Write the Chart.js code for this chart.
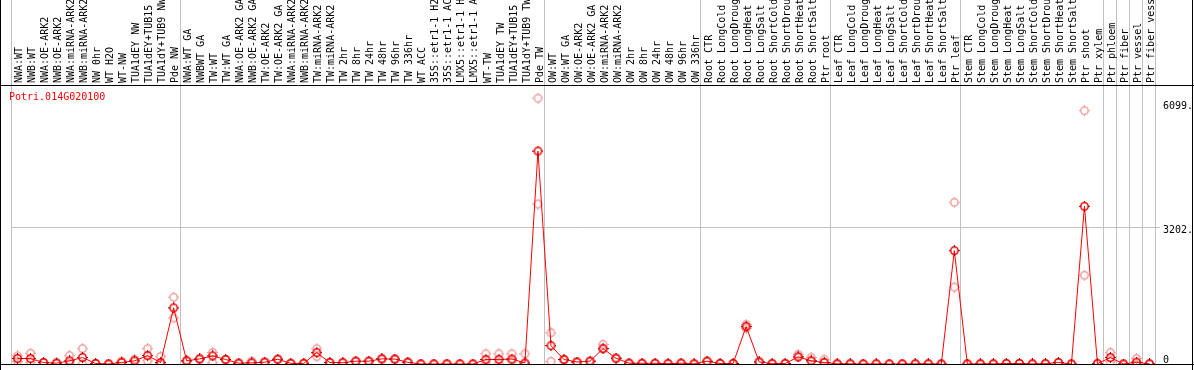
<!DOCTYPE html>
<html>
<head>
<meta charset="utf-8">
<script src="https://cdn.jsdelivr.net/npm/chart.js@4/dist/chart.umd.min.js"></script>
<style>
  body { margin: 0; background: #fff; }
  canvas { display: block; }
</style>
</head>
<body>
<canvas id="myChart" width="1194" height="370"></canvas>
<script>
'use strict';

let geneId = 'Potri.014G020100';

let labels = [
    'NWA:WT', 'NWB:WT', 'NWA:OE-ARK2', 'NWB:OE-ARK2', 'NWA:miRNA-ARK2', 'NWB:miRNA-ARK2',
    'NW 0hr', 'WT H2O', 'WT-NW', 'TUA1dEY NW', 'TUA1dEY+TUB15 NW', 'TUA1dY+TUB9 NW', 'Pde NW',
    'NWA:WT GA', 'NWBWT GA', 'TW:WT', 'TW:WT GA', 'NWA:OE-ARK2 GA', 'NWB:OE-ARK2 GA',
    'TW:OE-ARK2', 'TW:OE-ARK2 GA', 'NWA:miRNA-ARK2', 'NWB:miRNA-ARK2', 'TW:miRNA-ARK2',
    'TW:miRNA-ARK2', 'TW 2hr', 'TW 8hr', 'TW 24hr', 'TW 48hr', 'TW 96hr', 'TW 336hr',
    'WT ACC', '35S::etr1-1 H2O', '35S::etr1-1 ACC', 'LMX5::etr1-1 H2O', 'LMX5::etr1-1 ACC',
    'WT-TW', 'TUA1dEY TW', 'TUA1dEY+TUB15 TW', 'TUA1dY+TUB9 TW', 'Pde TW',
    'OW:WT', 'OW:WT GA', 'OW:OE-ARK2', 'OW:OE-ARK2 GA', 'OW:miRNA-ARK2', 'OW:miRNA-ARK2',
    'OW 2hr', 'OW 8hr', 'OW 24hr', 'OW 48hr', 'OW 96hr', 'OW 336hr',
    'Root CTR', 'Root LongCold', 'Root LongDrought', 'Root LongHeat', 'Root LongSalt',
    'Root ShortCold', 'Root ShortDrought', 'Root ShortHeat', 'Root ShortSalt', 'Ptr root',
    'Leaf CTR', 'Leaf LongCold', 'Leaf LongDrought', 'Leaf LongHeat', 'Leaf LongSalt',
    'Leaf ShortCold', 'Leaf ShortDrought', 'Leaf ShortHeat', 'Leaf ShortSalt', 'Ptr leaf',
    'Stem CTR', 'Stem LongCold', 'Stem LongDrought', 'Stem LongHeat', 'Stem LongSalt',
    'Stem ShortCold', 'Stem ShortDrought', 'Stem ShortHeat', 'Stem ShortSalt', 'Ptr shoot',
    'Ptr xylem', 'Ptr phloem', 'Ptr fiber', 'Ptr vessel', 'Ptr fiber vessel'
];

// mean expression per sample
let meanExpr = [
    128, 128, 35, 19, 74, 152, 12, 0, 35, 74, 198, 35, 1322,
    74, 120, 191, 105, 19, 27, 43, 112, 15, 15, 268, 35, 30, 66, 66, 121, 116, 40,
    0, 0, 0, 0, 0, 105, 108, 117, 25, 5011,
    431, 105, 47, 66, 361, 136, 19, 16, 16, 8, 19, 4,
    66, 12, 12, 882, 50, 8, 12, 167, 74, 35,
    4, 4, 0, 4, 0, 0, 4, 4, 0, 2668,
    0, 4, 4, 12, 12, 4, 8, 35, 0, 3712, 8, 152, 0, 43, 4
];

// replicates (highest / lowest)
let repHigh = [
    191, 253, 35, 40, 198, 361, 12, 0, 70, 110, 361, 175, 1571,
    74, 120, 272, 105, 19, 70, 43, 112, 15, 15, 361, 35, 30, 66, 66, 121, 116, 40,
    0, 0, 0, 0, 0, 240, 240, 240, 240, 6257,
    734, 105, 47, 66, 461, 136, 19, 16, 16, 8, 19, 4,
    66, 12, 12, 930, 50, 8, 12, 229, 152, 105,
    4, 4, 0, 4, 0, 0, 4, 4, 0, 3805,
    0, 4, 4, 12, 12, 4, 8, 35, 0, 5962, 8, 268, 0, 128, 4
];
let repLow = [
    60, 40, 35, 19, 0, 0, 12, 0, 35, 74, 74, 0, 1083,
    74, 120, 30, 105, 19, 27, 43, 112, 15, 15, 175, 35, 30, 66, 66, 121, 116, 40,
    0, 0, 0, 0, 0, 0, 0, 80, 0, 3765,
    58, 105, 47, 66, 361, 136, 19, 16, 16, 8, 19, 4,
    66, 12, 12, 840, 50, 8, 12, 167, 74, 35,
    4, 4, 0, 4, 0, 0, 4, 4, 0, 1810,
    0, 4, 4, 12, 12, 4, 8, 35, 0, 2088, 8, 60, 0, 0, 4
];

let yTicks = [0, 3202, 6099];
let groupStarts = [0, 13, 41, 53, 63, 73, 84, 85, 86, 87];

document.addEventListener('DOMContentLoaded', function() {
    drawChart();
});

function makeMarker(ring, ticks) {
    let c = document.createElement('canvas');
    c.width = 11;
    c.height = 11;
    let g = c.getContext('2d');
    g.strokeStyle = ring;
    g.lineWidth = 1.5;
    g.beginPath();
    g.arc(5.5, 5.5, 3.7, 0, Math.PI * 2);
    g.stroke();
    g.strokeStyle = ticks;
    g.lineWidth = 1;
    g.beginPath();
    g.moveTo(5.5, 0); g.lineTo(5.5, 2);
    g.moveTo(5.5, 9); g.lineTo(5.5, 11);
    g.moveTo(0, 5.5); g.lineTo(2, 5.5);
    g.moveTo(9, 5.5); g.lineTo(11, 5.5);
    g.stroke();
    return c;
}

let framePlugin = {
    id: 'frame',
    beforeDatasetsDraw: function(chart) {
        let ctx = chart.ctx;
        let a = chart.chartArea;
        ctx.save();
        ctx.strokeStyle = '#000';
        ctx.lineWidth = 1;
        ctx.beginPath();
        ctx.moveTo(0.5, 0); ctx.lineTo(0.5, chart.height);
        ctx.moveTo(0, a.top + 0.5); ctx.lineTo(chart.width, a.top + 0.5);
        ctx.moveTo(0, a.bottom + 0.5); ctx.lineTo(chart.width, a.bottom + 0.5);
        ctx.moveTo(chart.width - 1.5, 0); ctx.lineTo(chart.width - 1.5, chart.height);
        ctx.stroke();
        ctx.fillStyle = '#ff0000';
        ctx.font = '10px "DejaVu Sans Mono"';
        ctx.textBaseline = 'middle';
        ctx.fillText(geneId, 9, 97);
        ctx.restore();
    }
};

function drawChart() {
    let meanMarker = makeMarker('#ff0000', '#900000');
    let repMarker = makeMarker('#f0a0a0', '#f0a0a0');
    let monoFont = { family: 'DejaVu Sans Mono', size: 10 };

    let ctx = document.getElementById('myChart').getContext('2d');
    let chart = new Chart(ctx, {
        type: 'line',
        data: {
            labels: labels,
            datasets: [{
                label: 'mean',
                data: meanExpr,
                borderColor: '#ff0000',
                borderWidth: 1,
                pointStyle: meanMarker,
                pointRadius: 5,
                tension: 0,
                fill: false
            }, {
                label: 'rep high',
                data: repHigh,
                showLine: false,
                pointStyle: repMarker,
                pointRadius: 5
            }, {
                label: 'rep low',
                data: repLow,
                showLine: false,
                pointStyle: repMarker,
                pointRadius: 5
            }]
        },
        options: {
            responsive: false,
            animation: false,
            layout: { padding: { left: 11, right: 0, top: 0, bottom: 2 } },
            plugins: {
                legend: { display: false },
                tooltip: { enabled: false }
            },
            scales: {
                x: {
                    position: 'top',
                    offset: true,
                    afterFit: function(scale) {
                        scale.height = 85;
                        scale.paddingLeft = 0;
                        scale.paddingRight = 0;
                    },
                    border: { display: false },
                    grid: {
                        offset: true,
                        tickLength: 85,
                        color: function(c) {
                            if (c.index === undefined || groupStarts.includes(c.index)) return '#c0c0c0';
                            return 'rgba(0,0,0,0)';
                        }
                    },
                    ticks: {
                        autoSkip: false,
                        minRotation: 90,
                        maxRotation: 90,
                        padding: -83,
                        labelOffset: 14,
                        color: '#000',
                        font: monoFont
                    }
                },
                y: {
                    position: 'right',
                    min: 0,
                    max: 6566,
                    afterFit: function(scale) {
                        scale.width = 38;
                        scale.paddingTop = 0;
                        scale.paddingBottom = 0;
                    },
                    afterBuildTicks: function(scale) {
                        scale.ticks = yTicks.map(function(v) { return { value: v }; });
                    },
                    border: { display: false },
                    grid: {
                        tickLength: 4,
                        color: function(c) {
                            return c.tick && c.tick.value === 3202 ? '#c0c0c0' : 'rgba(0,0,0,0)';
                        }
                    },
                    ticks: {
                        padding: 3,
                        labelOffset: 2,
                        color: '#000',
                        font: monoFont,
                        callback: function(v) { return v === 0 ? ['0', ''] : v + '.'; }
                    }
                }
            }
        },
        plugins: [framePlugin]
    });
}
</script>
</body>
</html>
